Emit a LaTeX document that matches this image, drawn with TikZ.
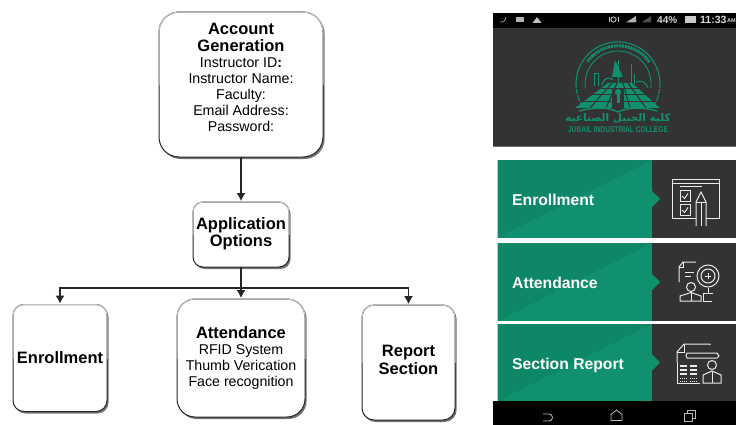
\documentclass[tikz,border=0pt]{standalone}
\usepackage{fontspec}
\setmainfont{Liberation Sans}
\newfontfamily\arabicfont[Script=Arabic]{DejaVu Sans}
\TeXXeTstate=1
\usetikzlibrary{arrows.meta,shadows,calc}
\definecolor{jicgreen}{HTML}{10906E}
\definecolor{jicdark}{HTML}{0E8769}
\definecolor{phonegray}{HTML}{333333}
\definecolor{toprim}{HTML}{C4C4C4}
\tikzset{
  flowbox/.style={draw=black!85,fill=white,line width=1pt,outer sep=0pt,inner sep=0pt,align=center,
    font=\fontsize{14.2pt}{16pt}\selectfont,
    drop shadow={shadow xshift=1.6pt,shadow yshift=-2pt,opacity=.55,fill=black}},
  flowline/.style={draw=black!85,line width=1.1pt},
  flowarrow/.style={flowline,-{Latex[length=8pt,width=9pt]},shorten >=1pt},
  cardtext/.style={text=white,anchor=west,inner sep=0pt,font=\bfseries\fontsize{15.7pt}{18pt}\selectfont},
  iconline/.style={draw=white!92!black,line width=1pt},
  logoline/.style={draw=jicgreen,line width=1pt},
  statustext/.style={text=white!85!black,inner sep=0pt,font=\bfseries\fontsize{10pt}{12pt}\selectfont},
  navline/.style={draw=white!75!black,line width=.8pt}
}
\newcommand{\hd}[1]{{\bfseries\fontsize{16.5pt}{18pt}\selectfont #1}}
\newcommand{\toprimof}[2]{%
  \begin{scope}
    \clip ([xshift=-2pt,yshift=2pt]#1.north west) rectangle ([xshift=2pt]#1.east);
    \draw[toprim,line width=1pt,rounded corners=#2] (#1.south west) rectangle (#1.north east);
  \end{scope}}
\begin{document}
\begin{tikzpicture}[x=1pt,y=-1pt]
\useasboundingbox (0,0) rectangle (736,425);
\fill[white] (0,0) rectangle (736,425);

% ---- flow chart
\node[flowbox,rounded corners=20pt,minimum width=164pt,minimum height=145pt] (acc) at (241,84.5)
  {\hd{Account}\\[1pt]\hd{Generation}\\Instructor ID\textbf{:}\\Instructor Name:\\Faculty:\\Email Address:\\Password:\\[-2pt]\mbox{}};
\node[flowbox,rounded corners=10pt,minimum width=96pt,minimum height=65pt] (app) at (241,234.5)
  {\hd{Application}\\[1pt]\hd{Options}\\[3pt]\mbox{}\vspace{-14pt}};
\node[flowbox,rounded corners=11pt,minimum width=94pt,minimum height=107pt] (enr) at (60,358)
  {\hd{Enrollment}};
\node[flowbox,rounded corners=18pt,minimum width=128pt,minimum height=118pt] (att) at (241,358)
  {\hd{Attendance}\\RFID System\\Thumb Verication\\Face recognition};
\node[flowbox,rounded corners=12pt,minimum width=93pt,minimum height=115pt] (rep) at (408.5,362.5)
  {\hd{Report}\\[2pt]\hd{Section}\\[3pt]\mbox{}\vspace{-13pt}};
\toprimof{acc}{20pt}
\toprimof{app}{10pt}
\toprimof{enr}{11pt}
\toprimof{att}{18pt}
\toprimof{rep}{12pt}

\coordinate (junc) at (241,288);
\draw[flowarrow] (acc.south) -- (app.north);
\draw[flowline] (app.south) -- (junc);
\draw[flowarrow] (junc) -- (att.north);
\draw[flowarrow] (junc) -| (enr.north);
\draw[flowarrow] (junc) -| (rep.north);

% ---- phone screen
\fill[phonegray] (493,13) rectangle (736,147);
\fill[black] (493,13) rectangle (736,28);
\fill[black!55] (493,146) rectangle (736,147.5);

% status bar
\draw[white!70!black,line width=.7pt] (500,22) .. controls (503,23) and (506,20) .. (506,17);
\fill[white!70!black] (516,17.5) rectangle (524,22);
\fill[white!75!black] (537,17) -- (541.5,23) -- (532.5,23) -- cycle;
\draw[white!80!black,line width=.8pt] (613.5,19.5) circle (2.6pt);
\draw[white!80!black,line width=.5pt] (609,17) -- (609,22) (618,17) -- (618,22);
\fill[white!70!black] (626,22.5) -- (636,16) -- (636,22.5) -- cycle;
\fill[white!30!black] (641,22.5) -- (651,16) -- (651,22.5) -- cycle;
\node[statustext,anchor=west] (batt) at (657,20) {44\%};
\fill[white!80!black] (685,16.5) rectangle (696,23);
\node[statustext,anchor=west,font=\bfseries\fontsize{10.5pt}{12pt}\selectfont] (clock) at (700,20) {11:33};
\node[statustext,anchor=west,font=\bfseries\fontsize{5.5pt}{7pt}\selectfont] (ampm) at (727,21) {AM};

% logo
\draw[jicgreen,line width=1.1pt] (652.4,108) arc[start angle=-35,end angle=215,radius=42pt];
\draw[jicgreen,line width=.9pt] (650.8,88) arc[start angle=-7,end angle=187,radius=33pt];
\draw[jicgreen,line width=3pt,dash pattern=on 2pt off .8pt] (649.5,62) arc[start angle=35,end angle=145,radius=38pt];
% plant skyline
\draw[logoline] (594,86) -- (594,74) -- (598,74) -- (598,86);
\draw[logoline] (602,85) .. controls (603,78) and (610,76) .. (613,80);
\fill[jicgreen] (615,60) -- (623,77) -- (612,77) -- cycle;
\draw[logoline] (618,60) -- (618,84);
\draw[logoline] (631,64) -- (631,84) (634,74) -- (634,84);
\draw[logoline] (636,82) .. controls (640,80) and (645,81) .. (648,88);
% perspective ground
\fill[jicgreen] (608,83) -- (632,83) -- (660,108) -- (575,108) -- cycle;
\foreach \a/\b in {612/590,617/606,623/630,628/646}{\draw[phonegray,line width=1.1pt] (\a,83) -- (\b,108);}
\foreach \yy in {88,94,101}{\draw[phonegray,line width=.9pt] (570,\yy) -- (665,\yy);}
\fill[phonegray] (612,89) rectangle (624,108);
\fill[jicgreen] (618,92) circle (3pt);
\fill[jicgreen] (616.5,93) rectangle (619.5,103);
\draw[logoline,line width=1.4pt] (579,111) .. controls (600,106) and (610,108) .. (618,112) .. controls (626,108) and (640,106) .. (657,111);
\node[text=jicgreen,inner sep=0pt,font=\arabicfont\bfseries\fontsize{10.5pt}{12pt}\selectfont] (logoar) at (618,118.5) {\beginR كلية الجبيل الصناعية\endR};
\node[text=jicgreen,inner sep=0pt,font=\bfseries\fontsize{8.4pt}{10pt}\selectfont] (logoen) at (618,130) {\scalebox{.79}[1]{JUBAIL INDUSTRIAL COLLEGE}};

% cards
\foreach \ya/\yb in {160/238,243/321,324/401}{
  \fill[phonegray] (652,\ya) rectangle (736,\yb);
  \fill[jicgreen] (497.5,\ya) rectangle (652,\yb);
  \fill[jicdark] (497.5,\ya) -- (652,\ya) -- (497.5,\yb) -- cycle;
  \fill[jicgreen] (652,{(\ya+\yb)/2-8}) -- (660,{(\ya+\yb)/2}) -- (652,{(\ya+\yb)/2+8}) -- cycle;
}
\node[cardtext] (cenr) at (512,200) {Enrollment};
\node[cardtext] (catt) at (512,282.5) {Attendance};
\node[cardtext] (crep) at (512,365.5) {Section Report};

% enrollment icon
\draw[iconline] (706,218) -- (719,218) -- (719,179) -- (672,179) -- (672,218) -- (697,218);
\draw[iconline] (672,183) -- (719,183);
\draw[iconline] (680,186) -- (702,186);
\draw[iconline] (680,190) rectangle (690,201);
\draw[iconline] (680,204) rectangle (690,215);
\draw[iconline] (682,196) -- (684.5,198.5) -- (688,193.5);
\draw[iconline] (682,210) -- (684.5,212.5) -- (688,207.5);
\fill[phonegray] (696,202) rectangle (706,219);
\draw[iconline] (696,226) -- (696,202) -- (701,192) -- (706,202) -- (706,226);
\draw[iconline] (696,202) -- (706,202) (701,202) -- (701,226);

% attendance icon
\draw[iconline] (696,262) -- (683,262) -- (679,267) -- (679,282);
\draw[iconline] (679,267) -- (683,267) -- (683,262);
\draw[iconline] (685,272) -- (694,272) (685,276) -- (691,276);
\draw[iconline] (708,276) circle (11pt);
\draw[iconline] (708,276) circle (7pt);
\draw[iconline] (705,276) -- (711,276) (708,273) -- (708,279);
\draw[iconline] (691,287) circle (4.5pt);
\draw[iconline] (680,301) -- (680,296) -- (691,292.5) -- (701,296) -- (701,301) -- cycle;
\draw[iconline] (691,293) -- (691,301);
\draw[iconline] (708,288) -- (708,293) (703,293) -- (713,293) (703,293) -- (703,301) (703,301) -- (712,301);

% report icon
\draw[iconline] (710,344) -- (710,345) (677,362) -- (677,352) -- (684,344) -- (710,344);
\draw[iconline] (677,352) -- (684,352) -- (684,344);
\fill[phonegray] (686,353) rectangle (719,358);
\draw[iconline] (687,353) -- (717,353) -- (719,356) -- (717,358) -- (687,358) -- (686,355.5) -- cycle;
\draw[iconline] (677,362) -- (677,383) -- (700,383);
\foreach \yy in {366,370,374}{\draw[iconline,line width=1.2pt] (680,\yy) -- (687,\yy) (690,\yy) -- (697,\yy);}
\draw[iconline,line width=.6pt,dash pattern=on 1pt off 1pt] (680,378) -- (687,378) (680,381) -- (687,381) (690,378) -- (697,378) (690,381) -- (697,381);
\draw[iconline] (712,365) circle (4.5pt);
\draw[iconline] (703,383) -- (703,375) -- (712,371) -- (721,375) -- (721,383) -- cycle;
\draw[iconline] (712,372) -- (712,383);

% nav bar
\fill[black] (493,401) rectangle (736,425);
\draw[navline] (543,414) -- (549,414) arc[start angle=90,end angle=-90,radius=3.5pt] -- (543,421);
\draw[navline] (611,420.5) -- (611,414.5) -- (616.5,410) -- (622,414.5) -- (622,420.5) -- cycle;
\draw[navline] (684,413) rectangle (692,421);
\draw[navline] (687,413) -- (687,410) -- (695,410) -- (695,418) -- (692,418);
\end{tikzpicture}
\end{document}
